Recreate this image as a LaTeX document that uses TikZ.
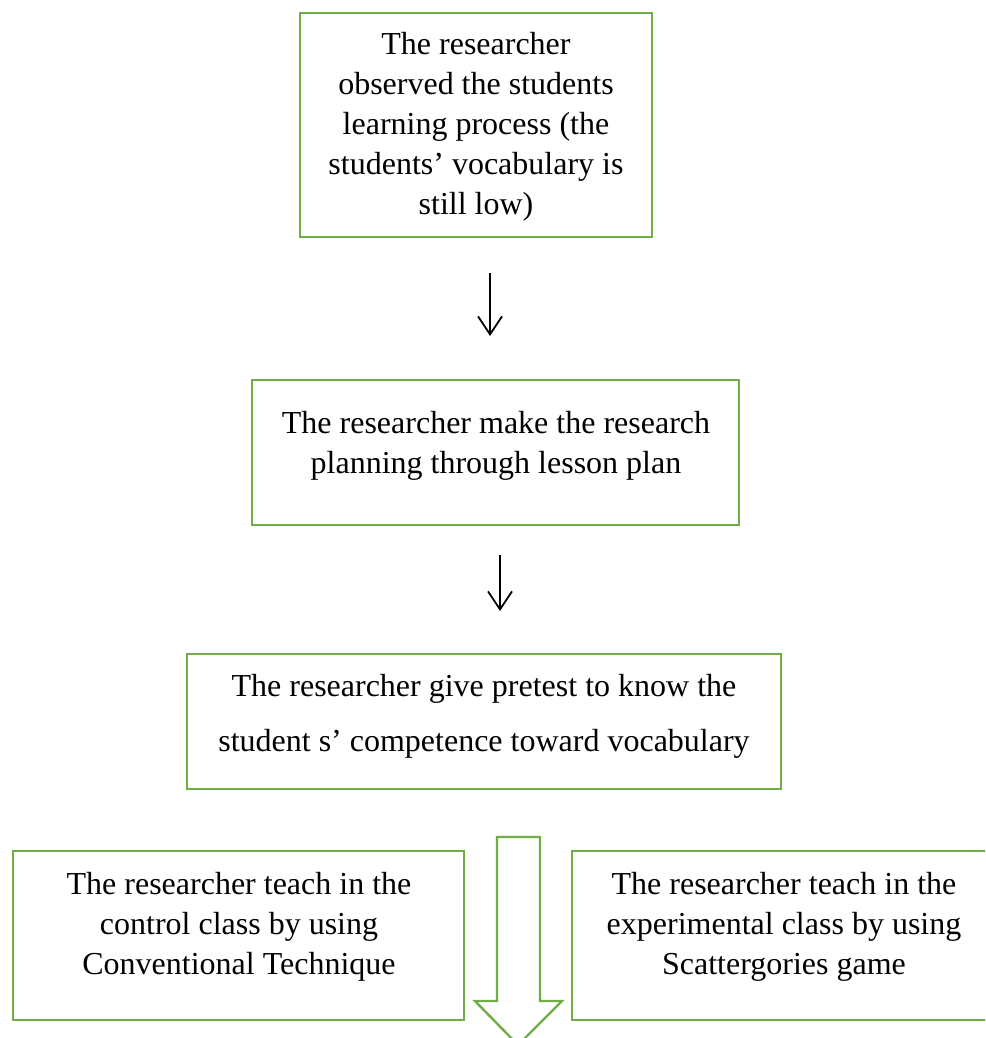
\documentclass[tikz,border=0pt]{standalone}
\usepackage{fontspec}
\setmainfont{Liberation Serif}
\usetikzlibrary{arrows.meta}
\definecolor{boxgreen}{HTML}{70AD47}
\begin{document}
\begin{tikzpicture}[x=1pt,y=-1pt,
  box/.style={draw=boxgreen,line width=2.8pt,fill=white},
  lbl/.style={align=center,inner sep=0pt,font=\fontsize{32}{40}\selectfont},
  thinarrow/.style={draw=black,line width=1.8pt,-{Straight Barb[length=18pt,width=24pt,line width=1.8pt]}}]
\useasboundingbox (0,0) rectangle (985,1038);
\clip (0,0) rectangle (985,1038);
% boxes
\draw[box] (300,13) rectangle (652,237);
\draw[box] (252,380) rectangle (739,525);
\draw[box] (187,654) rectangle (781,789);
\draw[box] (13,851) rectangle (464,1020);
\draw[box] (572,851) rectangle (1000,1020);
% labels
\node[lbl] (t1) at (476,127) {The researcher\\observed the students\\learning process (the\\students’ vocabulary is\\still low)};
\node[lbl] (t2) at (496,446) {The researcher make the research\\planning through lesson plan};
\node[lbl,font=\fontsize{32}{55}\selectfont] (t3) at (484,716) {The researcher give pretest to know the\\student s’ competence toward vocabulary};
\node[lbl] (t4) at (239,927) {The researcher teach in the\\control class by using\\Conventional Technique};
\node[lbl] (t5) at (784,927) {The researcher teach in the\\experimental class by using\\Scattergories game};
% thin arrows
\coordinate (a1s) at (490,273);
\coordinate (a1e) at (490,336);
\coordinate (a2s) at (500,555);
\coordinate (a2e) at (500,611);
\draw[thinarrow] (a1s) -- (a1e);
\draw[thinarrow] (a2s) -- (a2e);
% block arrow
\draw[box,line width=2.4pt,line join=miter] (497,837) -- (540,837) -- (540,1001) -- (562,1001) -- (518,1045) -- (475,1001) -- (497,1001) -- cycle;
\end{tikzpicture}
\end{document}
